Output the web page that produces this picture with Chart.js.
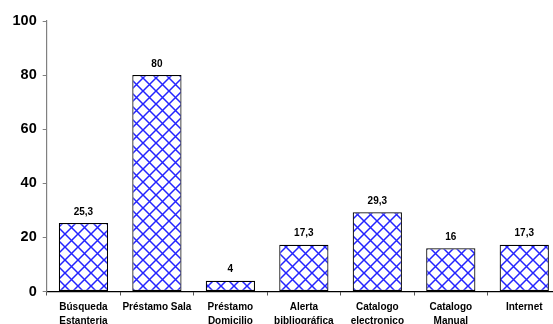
<!DOCTYPE html>
<html>
<head>
<meta charset="utf-8">
<script src="https://cdn.jsdelivr.net/npm/chart.js@4"></script>
<style>
  html, body { margin: 0; padding: 0; background: #fff; overflow: hidden; }
  #wrap { width: 553px; height: 324px; overflow: hidden; position: relative; }
  canvas { display: block; }
</style>
</head>
<body>
<div id="wrap"><canvas id="barChart" width="562" height="338"></canvas></div>
<script>
// =====================
//  DATA
// =====================
const CATEGORIES = [
    ["Búsqueda", "Estanteria"],
    "Préstamo Sala",
    ["Préstamo", "Domicilio"],
    ["Alerta", "bibliográfica"],
    ["Catalogo", "electronico"],
    ["Catalogo", "Manual"],
    "Internet"
];
const VALUES = [25.3, 80, 4, 17.3, 29.3, 16, 17.3];
const Y_TICKS = [0, 20, 40, 60, 80, 100];

const FONT = "'Liberation Sans', Arial, sans-serif";

// =====================
//  PATTERN (blue diagonal lattice)
// =====================
function makePattern() {
    const size = 13;
    const c = document.createElement("canvas");
    c.width = size;
    c.height = size;
    const g = c.getContext("2d");
    g.fillStyle = "#ffffff";
    g.fillRect(0, 0, size, size);
    g.strokeStyle = "#2424ff";
    g.lineWidth = 1.5;
    g.beginPath();
    g.moveTo(-1, -1); g.lineTo(size + 1, size + 1);
    g.moveTo(size + 1, -1); g.lineTo(-1, size + 1);
    g.stroke();
    return g.createPattern(c, "repeat");
}

const ctx = document.getElementById("barChart").getContext("2d");

// value labels above the bars, decimal comma
const valueLabels = {
    id: "valueLabels",
    afterDatasetsDraw(chart) {
        const g = chart.ctx;
        const meta = chart.getDatasetMeta(0);
        g.save();
        g.font = "bold 10px " + FONT;
        g.fillStyle = "#000";
        g.textAlign = "center";
        g.textBaseline = "bottom";
        meta.data.forEach((bar, i) => {
            const txt = String(VALUES[i]).replace(".", ",");
            g.fillText(txt, bar.x, bar.y - 6);
        });
        g.restore();
    }
};

let barChart = new Chart(ctx, {
    type: "bar",
    data: {
        labels: CATEGORIES,
        datasets: [
            {
                data: VALUES,
                backgroundColor: makePattern(),
                borderColor: "#000",
                borderWidth: 1.2,
                borderSkipped: false,
                categoryPercentage: 1.0,
                barPercentage: 0.67
            }
        ]
    },
    options: {
        responsive: false,
        animation: false,
        layout: { padding: { top: 21, right: 1, left: 0, bottom: 0 } },
        plugins: {
            legend: { display: false },
            tooltip: { enabled: false }
        },
        scales: {
            x: {
                grid: {
                    drawOnChartArea: false,
                    drawTicks: true,
                    tickLength: 4,
                    color: "#555"
                },
                border: { color: "#000", width: 1.2 },
                ticks: {
                    color: "#000",
                    padding: 5,
                    maxRotation: 0,
                    autoSkip: false,
                    font: { family: FONT, size: 10, weight: "bold", lineHeight: 1.35 }
                },
                afterFit: (scale) => { scale.height = 338 - 291.5; }
            },
            y: {
                min: 0,
                max: 100,
                afterBuildTicks: (scale) => { scale.ticks = Y_TICKS.map((v) => ({ value: v })); },
                grid: {
                    drawOnChartArea: false,
                    drawTicks: true,
                    tickLength: 4,
                    color: "#808080"
                },
                border: { color: "#808080", width: 1.2 },
                ticks: {
                    color: "#000",
                    padding: 6,
                    font: { family: FONT, size: 14.5, weight: "bold" }
                },
                afterFit: (scale) => { scale.width = 46.7; }
            }
        }
    },
    plugins: [valueLabels]
});
</script>
</body>
</html>
